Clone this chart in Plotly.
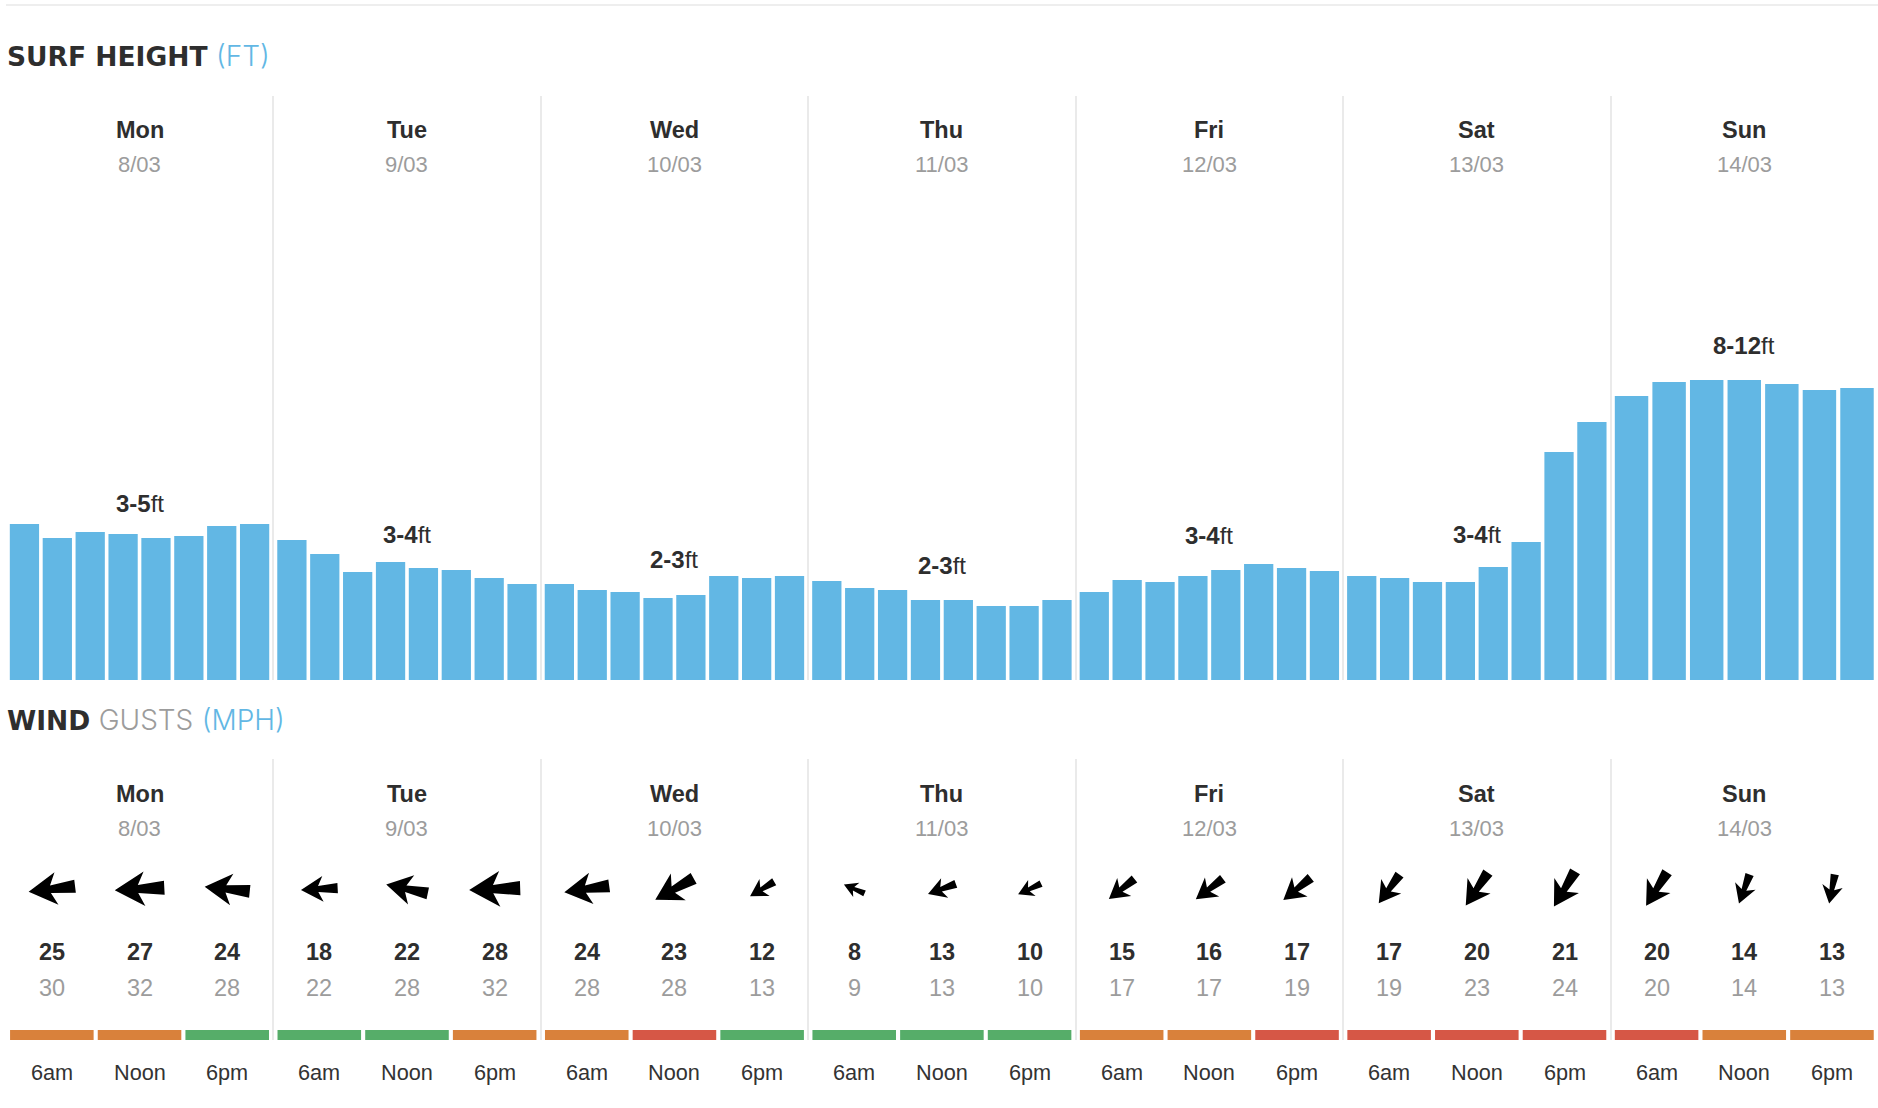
import math
import plotly.graph_objects as go

# ------------------------- data ------------------------------------------------
days = ["Mon", "Tue", "Wed", "Thu", "Fri", "Sat", "Sun"]
dates = ["8/03", "9/03", "10/03", "11/03", "12/03", "13/03", "14/03"]
slots = ["6am", "Noon", "6pm"]

# relative swell height per forecast step (no axis on the original)
surf = [
    [156, 142, 148, 146, 142, 144, 154, 156],
    [140, 126, 108, 118, 112, 110, 102, 96],
    [96, 90, 88, 82, 85, 104, 102, 104],
    [99, 92, 90, 80, 80, 74, 74, 80],
    [88, 100, 98, 104, 110, 116, 112, 109],
    [104, 102, 98, 98, 113, 138, 228, 258],
    [284, 298, 300, 300, 296, 290, 292],
]
surf_low = ["3", "3", "2", "2", "3", "3", "8"]
surf_high = ["5", "4", "3", "3", "4", "4", "12"]

wind = [25, 27, 24, 18, 22, 28, 24, 23, 12, 8, 13, 10, 15, 16, 17, 17, 20, 21, 20, 14, 13]
gusts = [30, 32, 28, 22, 28, 32, 28, 28, 13, 9, 13, 10, 17, 17, 19, 19, 23, 24, 20, 14, 13]
# compass heading the arrow points to, degrees
heading = [263, 267, 276, 267, 282, 268, 262, 241, 239, 293, 250, 245, 232, 233, 231, 216, 214, 211, 212, 200, 191]
rating = ["o", "o", "g", "g", "g", "o", "o", "r", "g", "g", "g", "g", "o", "o", "r", "r", "r", "r", "r", "o", "o"]

# ------------------------- layout constants ------------------------------------
W, H = 1878, 1108
DARK, GREY, BLUE = "#2e2e2e", "#9c9c9c", "#62b7e4"
RATING_COLOR = {"o": "#d9813b", "g": "#56ad69", "r": "#d65746"}
FONT = "Liberation Sans"
M = 2.2 / 267  # padding inside a day column, in days
LABEL_LEVEL = [177, 146, 121, 115, 145, 146, 335]  # centre of the range label


def py(y):
    return 1 - y / H


def text(x, y, s, size, color=DARK, bold=False, xref="x", xanchor="center"):
    return dict(x=x, y=py(y), xref=xref, yref="paper", text=f"<b>{s}</b>" if bold else s,
                showarrow=False, xanchor=xanchor, yanchor="middle",
                font=dict(family=FONT, size=size, color=color))


def slot_x(day, i, n):
    return day + M + (i + 0.5) * (1 - 2 * M) / n


def light(s, color):
    return f'<span style="font-family:Inter;font-weight:300;font-size:28px;color:{color}">{s}</span>'


def arrow_path(speed, head):
    # barbed arrow, drawn in pixels round its centre, length follows the wind speed
    L = 11 + 1.43 * speed
    a = math.radians(head)
    dx, dy = math.sin(a), math.cos(a)
    nx, ny = math.cos(a), -math.sin(a)
    pts = [(0, 0), (0.6, 0.35), (0.47, 0.08), (1, 0.14), (1, -0.14), (0.47, -0.08), (0.6, -0.35)]
    out = []
    for u, v in pts:
        px = dx * (0.5 - u) * L + nx * v * L
        py_ = dy * (0.5 - u) * L + ny * v * L
        out.append(f"{px:.2f} {py_:.2f}")
    return "M " + " L ".join(out) + " Z"


fig = go.Figure()

# ------------------------- surf bars -------------------------------------------
surf_x, surf_y, surf_w = [], [], []
for d, vals in enumerate(surf):
    n = len(vals)
    for i, v in enumerate(vals):
        surf_x.append(slot_x(d, i, n))
        surf_y.append(v)
        surf_w.append((1 - 2 * M) / n * 0.89)
fig.add_trace(go.Bar(x=surf_x, y=surf_y, width=surf_w, marker=dict(color=BLUE, line_width=0),
                     xaxis="x", yaxis="y", showlegend=False))

# ------------------------- wind rating strip -----------------------------------
wind_x = [slot_x(d, i, 3) for d in range(7) for i in range(3)]
fig.add_trace(go.Bar(x=wind_x, y=[10] * len(wind_x), width=(1 - 2 * M) / 3 * 0.953,
                     marker=dict(color=[RATING_COLOR[r] for r in rating], line_width=0),
                     xaxis="x", yaxis="y2", showlegend=False))

# ------------------------- text ------------------------------------------------
notes = []
notes.append(dict(x=5 / W, y=py(56), xref="paper", yref="paper", showarrow=False, xanchor="left",
                  yanchor="middle", font=dict(family="DejaVu Sans", size=26.5, color=DARK),
                  text=f'<b>SURF HEIGHT</b> {light("(FT)", BLUE)}'))
notes.append(dict(x=5 / W, y=py(720), xref="paper", yref="paper", showarrow=False, xanchor="left",
                  yanchor="middle", font=dict(family="DejaVu Sans", size=26.5, color=DARK),
                  text=f'<b>WIND</b> {light("GUSTS", GREY)} {light("(MPH)", BLUE)}'))

for d in range(7):
    mid = d + 0.5
    notes.append(text(mid, 130, days[d], 23.5, bold=True))
    notes.append(text(mid, 164, dates[d], 22, GREY))
    notes.append(text(mid, 794, days[d], 23.5, bold=True))
    notes.append(text(mid, 828, dates[d], 22, GREY))
    notes.append(dict(x=mid, y=LABEL_LEVEL[d], xref="x", yref="y", showarrow=False, yanchor="middle",
                      text=f"<b>{surf_low[d]}-{surf_high[d]}</b>ft",
                      font=dict(family=FONT, size=24, color=DARK)))

for k, x in enumerate(wind_x):
    notes.append(text(x, 952, str(wind[k]), 23.5, bold=True))
    notes.append(text(x, 988, str(gusts[k]), 23.5, GREY))
    notes.append(text(x, 1072, slots[k % 3], 21.7, "#333333"))

# ------------------------- arrows ----------------------------------------------
shapes = [dict(type="line", xref="paper", yref="paper", x0=6 / W, x1=1, y0=py(5), y1=py(5),
               line=dict(color="#eeeeee", width=2))]
for k, x in enumerate(wind_x):
    shapes.append(dict(type="path", xref="x", yref="y2", xsizemode="pixel", ysizemode="pixel",
                       xanchor=x, yanchor=151, path=arrow_path(wind[k], heading[k]),
                       fillcolor="black", line=dict(width=0)))

fig.update_layout(
    width=W, height=H, margin=dict(l=0, r=0, t=0, b=0), paper_bgcolor="white", plot_bgcolor="white",
    showlegend=False, barmode="overlay", annotations=notes, shapes=shapes,
    xaxis=dict(range=[0, 7], domain=[5.8 / W, 1], tickvals=list(range(7)), showticklabels=False,
               showgrid=True, gridcolor="#eaeaea", gridwidth=2, zeroline=False, showline=False, ticks=""),
    yaxis=dict(range=[0, 584], domain=[py(680), py(96)], visible=False),
    yaxis2=dict(range=[0, 281], domain=[py(1040), py(759)], visible=False),
)

fig.write_html("out.html", config={"displayModeBar": False},
               post_script="document.body.style.margin='0';document.body.style.overflow='hidden';")
